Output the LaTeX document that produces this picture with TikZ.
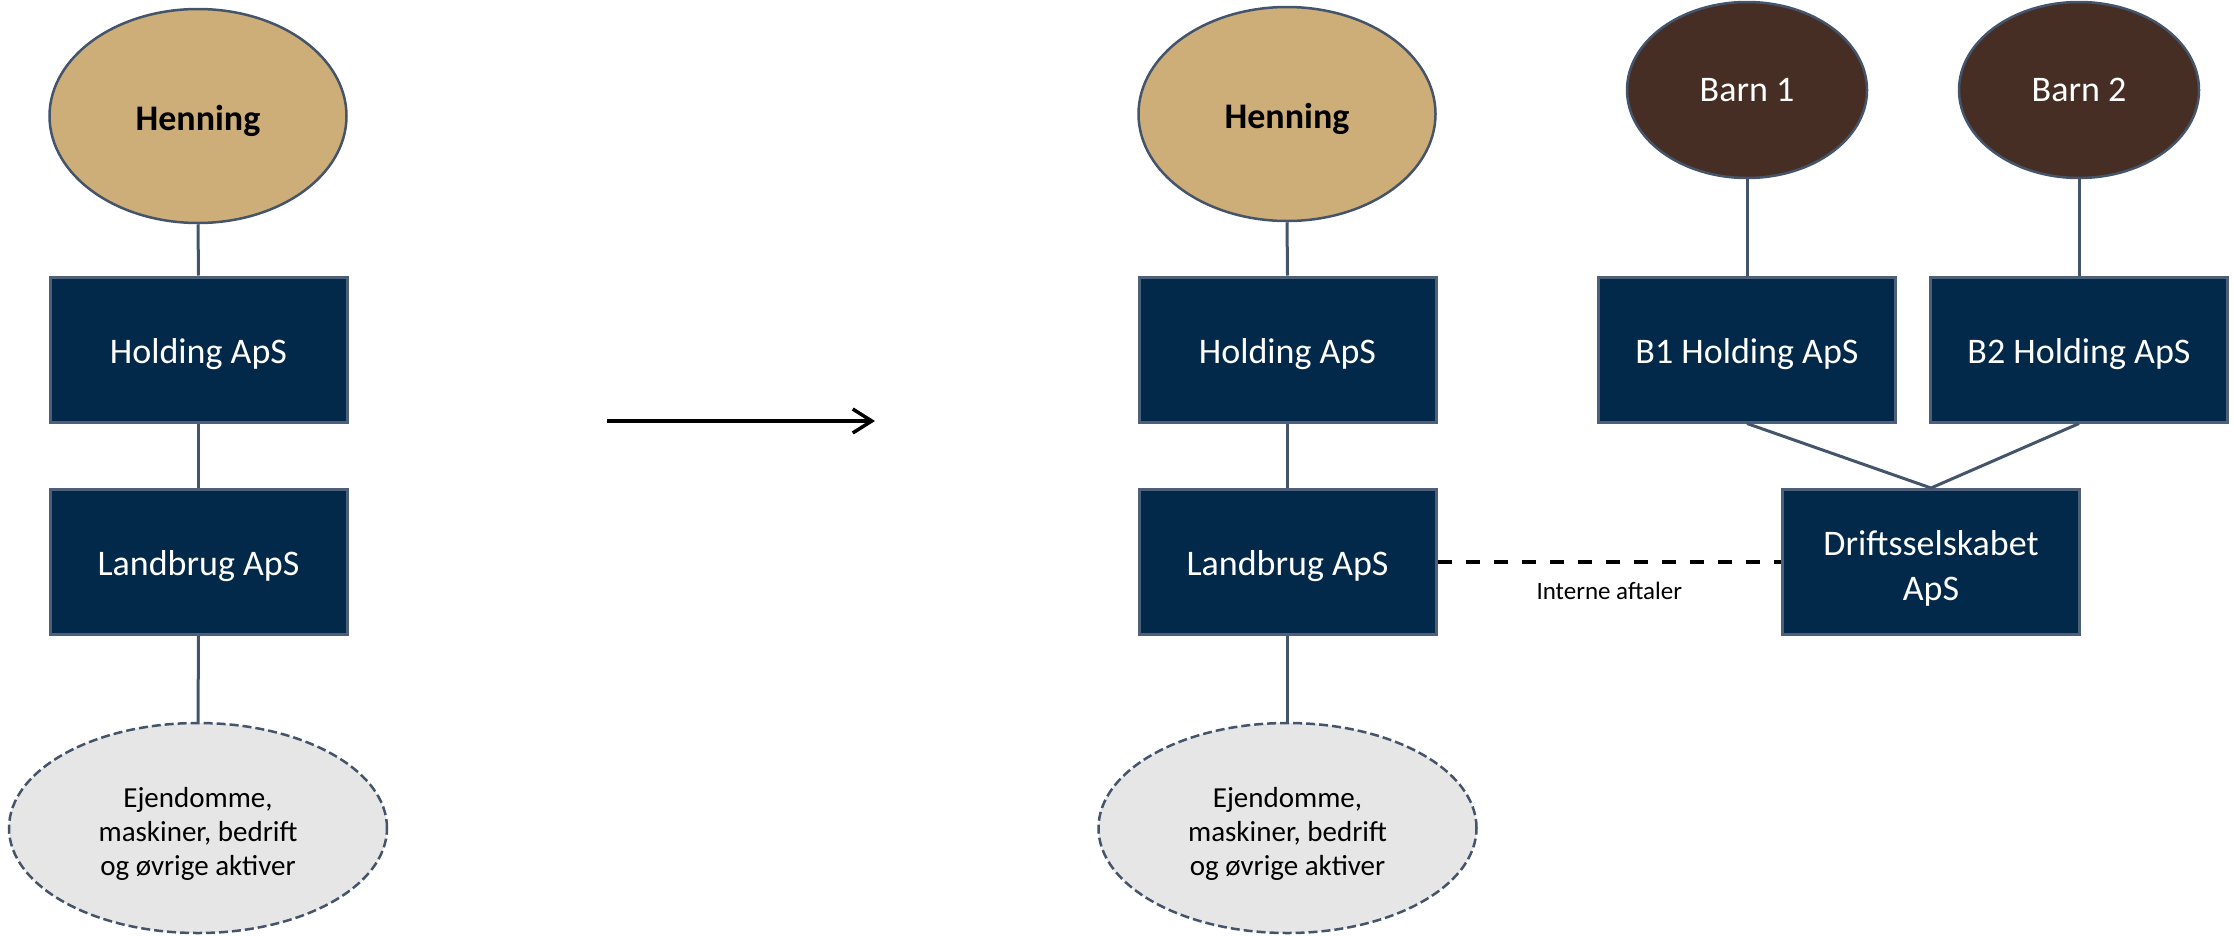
\documentclass[tikz,border=0pt]{standalone}
\usepackage{fontspec}
\setmainfont{Carlito}
\usetikzlibrary{shapes.geometric,arrows.meta}
\definecolor{navy}{HTML}{03294A}
\definecolor{boxedge}{HTML}{4E5F7A}
\definecolor{linecol}{HTML}{44546A}
\definecolor{tan}{HTML}{CDAD78}
\definecolor{brownfill}{HTML}{472E24}
\definecolor{grayfill}{HTML}{E6E6E6}
\newcommand{\stacklines}[1]{\vbox{\halign{\hfil##\hfil\cr#1\crcr}}}
\tikzset{
  company/.style={rectangle, fill=navy, draw=boxedge, line width=3pt, minimum width=297pt, minimum height=145pt, inner sep=0pt, text=white, text height=27pt, text depth=0pt, font=\fontsize{36}{45}\selectfont},
  twoline/.style={text height=77pt, text depth=0pt},
  owner/.style={ellipse, fill=tan, draw=linecol, line width=2.5pt, minimum width=297pt, minimum height=214pt, inner sep=0pt, text height=28pt, text depth=0pt, font=\fontsize{36}{44}\selectfont\bfseries},
  child/.style={ellipse, fill=brownfill, draw=linecol, line width=2.5pt, minimum width=240pt, minimum height=176pt, inner sep=0pt, text=white, text height=23pt, text depth=0pt, font=\fontsize{36}{44}\selectfont},
  assets/.style={ellipse, fill=grayfill, draw=linecol, line width=2.5pt, dash pattern=on 9pt off 4pt, minimum width=378pt, minimum height=210pt, inner sep=0pt, text height=94pt, text depth=0pt, font=\fontsize{29}{34}\selectfont},
  link/.style={draw=linecol, line width=3pt},
  agreement/.style={draw=black, line width=4pt, dash pattern=on 14pt off 14pt},
  bigarrow/.style={draw=black, line width=3.5pt, -{Straight Barb[length=19pt,width=24pt,line width=3.5pt]}}
}
\begin{document}
\begin{tikzpicture}[x=1pt,y=-1pt]
\useasboundingbox (0,0) rectangle (2234,935);
% left structure
\node[owner]   (h1)  at (198,116)   {Henning};
\node[company] (ho1) at (198.5,349.5) {Holding ApS};
\node[company] (la1) at (198.5,562) {Landbrug ApS};
\node[assets]  (ej1) at (198,828)   {\stacklines{Ejendomme,\cr maskiner, bedrift\cr og øvrige aktiver}};
\draw[link] (h1.south) -- (ho1.north);
\draw[link] (ho1.south) -- (la1.north);
\draw[link] (la1.south) -- (ej1.north);
% arrow
\coordinate (as) at (607,421);
\coordinate (ae) at (875,421);
\draw[bigarrow] (as) -- (ae);
% right structure
\node[owner]   (h2)  at (1287,114)  {Henning};
\node[company] (ho2) at (1287.5,349.5) {Holding ApS};
\node[company] (la2) at (1287.5,562) {Landbrug ApS};
\node[assets]  (ej2) at (1287.5,828) {\stacklines{Ejendomme,\cr maskiner, bedrift\cr og øvrige aktiver}};
\draw[link] (h2.south) -- (ho2.north);
\draw[link] (ho2.south) -- (la2.north);
\draw[link] (la2.south) -- (ej2.north);
\node[child]   (b1)  at (1747,90)   {Barn 1};
\node[child]   (b2)  at (2079,90)   {Barn 2};
\node[company] (bh1) at (1747,349.5) {B1 Holding ApS};
\node[company] (bh2) at (2079,349.5) {B2 Holding ApS};
\node[company, twoline] (dr)  at (1931,562)  {\stacklines{Driftsselskabet\cr ApS}};
\draw[link] (b1.south) -- (bh1.north);
\draw[link] (b2.south) -- (bh2.north);
\draw[link] (bh1.south) -- (dr.north);
\draw[link] (bh2.south) -- (dr.north);
\draw[agreement] (la2.east) -- (dr.west)
  node[midway, yshift=-29pt, font=\fontsize{25}{30}\selectfont, text=black] (ia) {Interne aftaler};
\end{tikzpicture}
\end{document}
